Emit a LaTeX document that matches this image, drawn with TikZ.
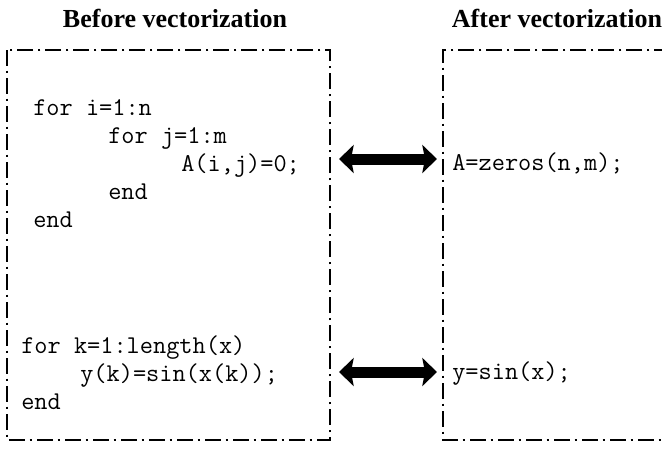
\documentclass[tikz,border=0pt]{standalone}
\usepackage{fontspec}
\setmainfont{Liberation Serif}
\usetikzlibrary{arrows.meta}
\begin{document}
\begin{tikzpicture}[x=0.75pt,y=-0.75pt,
  title/.style={font=\fontsize{19.5}{22}\selectfont\bfseries, inner sep=0pt},
  code/.style={font=\fontsize{19.2}{22}\selectfont\ttfamily, anchor=base west, inner sep=0pt},
  frame/.style={line width=0.8pt, dash pattern=on 12pt off 3.5pt on 2pt off 3.5pt},
  bigarrow/.style={line width=8.25pt, {Stealth[length=11pt,width=21pt,inset=2pt]}-{Stealth[length=11pt,width=21pt,inset=2pt]}}
]
\useasboundingbox (0,0) rectangle (662,451);

% headings
\node[title] (tb) at (175,18) {Before vectorization};
\node[title] (ta) at (557,18) {After vectorization};

% frames around the two versions
\draw[frame] (7,50) rectangle (330,440);
\draw[frame] (670,50) -- (443,50) -- (443,440) -- (670,440);

% nested loops
\node[code] (l1) at (33,115) {for i=1:n};
\node[code] (l2) at (108,143) {for j=1:m};
\node[code] (l3) at (181,171) {A(i,j)=0;};
\node[code] (l4) at (108,199) {end};
\node[code] (l5) at (33,227) {end};
\node[code] (r1) at (452,170) {A=zeros(n,m);};

% element-wise loop
\node[code] (m1) at (21,353) {for k=1:length(x)};
\node[code] (m2) at (80,381) {y(k)=sin(x(k));};
\node[code] (m3) at (21,409) {end};
\node[code] (r2) at (452,379) {y=sin(x);};

% equivalences
\coordinate (a1) at (339,159);
\coordinate (b1) at (437,159);
\coordinate (a2) at (339,372);
\coordinate (b2) at (437,372);
\draw[bigarrow] (a1) -- (b1);
\draw[bigarrow] (a2) -- (b2);
\end{tikzpicture}
\end{document}
